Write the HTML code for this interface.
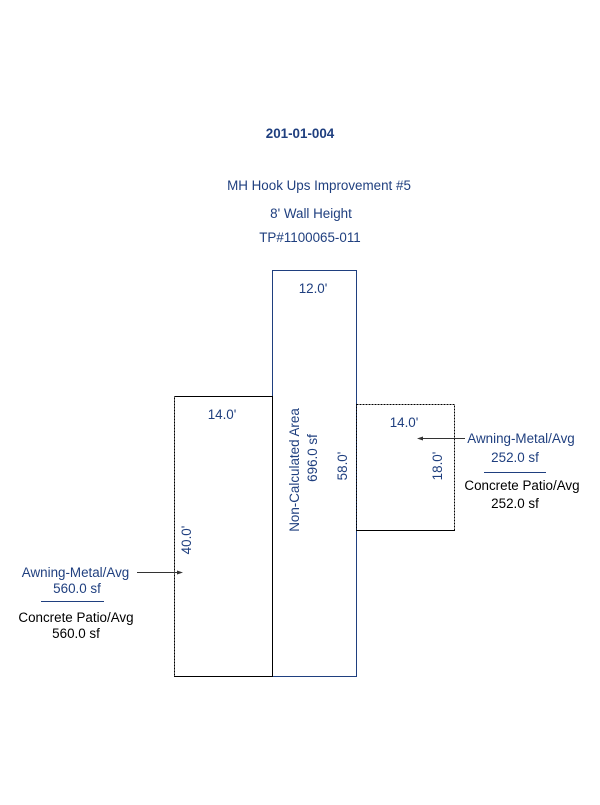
<!DOCTYPE html>
<html><head><meta charset="utf-8"><style>
body{margin:0;background:#fff}
svg text{font-family:"Liberation Sans",Arial,sans-serif;font-size:13.4px;fill:#1f3f7f}
</style></head><body>
<svg width="600" height="800" xmlns="http://www.w3.org/2000/svg">
<rect width="600" height="800" fill="#fff"/>
<text x="300" y="138" text-anchor="middle" font-weight="bold">201-01-004</text>
<text x="319" y="190" text-anchor="middle">MH Hook Ups Improvement #5</text>
<text x="311" y="218" text-anchor="middle">8' Wall Height</text>
<text x="310" y="242" text-anchor="middle">TP#1100065-011</text>
<rect x="272.5" y="270.5" width="84" height="406" fill="none" stroke="#1f3f7f" stroke-width="1"/>
<rect x="174.5" y="396.5" width="98" height="280" fill="none" stroke="#000" stroke-width="1"/>
<line x1="174.5" y1="396" x2="174.5" y2="676" stroke="#555" stroke-dasharray="2,1"/>
<rect x="356.5" y="404.5" width="98" height="126" fill="none" stroke="#000" stroke-width="1" stroke-dasharray="2,1"/>
<line x1="356" y1="530.5" x2="455" y2="530.5" stroke="#000"/>
<text x="313" y="293" text-anchor="middle">12.0'</text>
<text x="222" y="419" text-anchor="middle">14.0'</text>
<text x="404" y="427" text-anchor="middle">14.0'</text>
<text transform="translate(299,470) rotate(-90)" text-anchor="middle">Non-Calculated Area</text>
<text transform="translate(317,458) rotate(-90)" text-anchor="middle">696.0 sf</text>
<text transform="translate(347,466) rotate(-90)" text-anchor="middle">58.0'</text>
<text transform="translate(442,466) rotate(-90)" text-anchor="middle">18.0'</text>
<text transform="translate(191,540) rotate(-90)" text-anchor="middle">40.0'</text>
<line x1="465" y1="438.5" x2="420" y2="438.5" stroke="#333"/>
<polygon points="417,438.5 423,436.5 423,440.5" fill="#333"/>
<text x="521" y="443" text-anchor="middle">Awning-Metal/Avg</text>
<text x="515" y="462" text-anchor="middle">252.0 sf</text>
<line x1="484" y1="472.5" x2="546" y2="472.5" stroke="#1f3f7f"/>
<text x="522" y="490" text-anchor="middle" style="fill:#000">Concrete Patio/Avg</text>
<text x="515" y="508" text-anchor="middle" style="fill:#000">252.0 sf</text>
<line x1="137" y1="572.5" x2="180" y2="572.5" stroke="#333"/>
<polygon points="183,572.5 177,570.5 177,574.5" fill="#333"/>
<text x="75.5" y="577" text-anchor="middle">Awning-Metal/Avg</text>
<text x="77" y="593" text-anchor="middle">560.0 sf</text>
<line x1="41" y1="601.5" x2="104" y2="601.5" stroke="#1f3f7f"/>
<text x="76" y="622" text-anchor="middle" style="fill:#000">Concrete Patio/Avg</text>
<text x="76" y="638" text-anchor="middle" style="fill:#000">560.0 sf</text>
</svg>
</body></html>
